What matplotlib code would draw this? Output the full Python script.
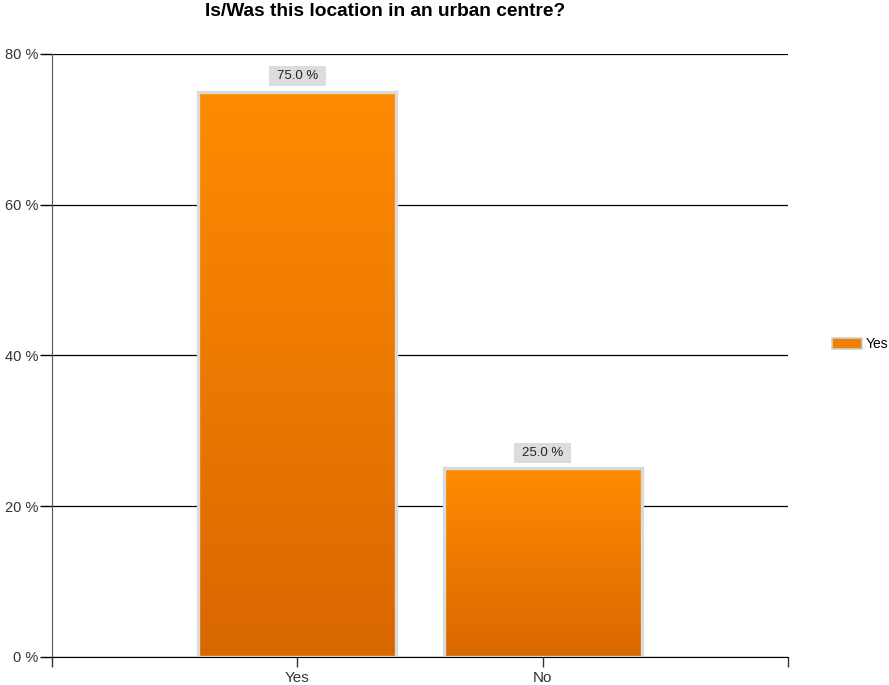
import numpy as np
import matplotlib.pyplot as plt
from matplotlib.colors import LinearSegmentedColormap
from matplotlib.patches import Rectangle

plt.rcParams['font.family'] = ['Liberation Sans', 'DejaVu Sans']

# data
categories = ['Yes', 'No']
percent = [75.0, 25.0]
series_name = 'Yes'
y_ticks = [0, 20, 40, 60, 80]

orange = LinearSegmentedColormap.from_list('orange', ['#d96700', '#ff8b00'])

fig = plt.figure(figsize=(8.89, 6.85), dpi=100)
ax = fig.add_axes([0.0585, 0.041, 0.8279, 0.8803])

x = np.arange(1, len(categories) + 1)
bars = ax.bar(x, percent, width=0.806, facecolor='none',
              edgecolor='#dadada', linewidth=2.4, zorder=3, label=series_name)

ax.set_xlim(0, 3)
ax.set_ylim(0, 80)

# vertical gradient inside every bar, value label on top
grad = np.linspace(0, 1, 256).reshape(-1, 1)
labels = []
for b in bars:
    x0, w, h = b.get_x(), b.get_width(), b.get_height()
    im = ax.imshow(grad, cmap=orange, aspect='auto', origin='lower',
                   extent=[x0, x0 + w, 0, h], zorder=2)
    im.set_clip_path(b)
    t = ax.text(x0 + w / 2, h + 2.1, '%.1f %%' % h, ha='center', va='center',
                fontsize=9.5, color='#222222', zorder=5)
    labels.append(t)

ax.set_yticks(y_ticks)
ax.set_yticklabels(['%d %%' % v for v in y_ticks], fontsize=10.5, color='#333333')
ax.set_xticks([0, 1, 2, 3])
ax.set_xticklabels([''] + categories + [''], fontsize=11, color='#333333')
ax.tick_params(axis='y', length=9, width=1, color='black', pad=1)
ax.tick_params(axis='x', length=7, width=1, color='#333333', pad=3)

ax.yaxis.grid(True, color='black', linewidth=0.9, zorder=1)
ax.set_axisbelow(True)
for side in ['top', 'right']:
    ax.spines[side].set_visible(False)
ax.spines['left'].set_color('#555555')
ax.spines['bottom'].set_color('black')
ax.spines['bottom'].set_zorder(5)

fig.text(385 / 889, 1 - 3 / 685, 'Is/Was this location in an urban centre?',
         ha='center', va='top', fontsize=13.8, fontweight='bold')

leg = ax.legend(loc='center left', bbox_to_anchor=(832 / 889, 1 - 344 / 685),
                bbox_transform=fig.transFigure, frameon=False, borderpad=0,
                borderaxespad=0, fontsize=10, handlelength=2.16,
                handleheight=0.86, handletextpad=0.3)
for hd in leg.legend_handles:
    hd.set_facecolor('#f08000')
    hd.set_edgecolor('#d0d0d0')
    hd.set_linewidth(1.2)

# grey boxes behind the value labels
fig.canvas.draw()
r = fig.canvas.get_renderer()
for t in labels:
    bb = t.get_window_extent(r)
    cx, cy = (bb.x0 + bb.x1) / 2, (bb.y0 + bb.y1) / 2
    bw, bh = bb.width + 16, 20
    fig.patches.append(Rectangle(((cx - bw / 2) / fig.bbox.width,
                                  (cy - bh / 2) / fig.bbox.height),
                                 bw / fig.bbox.width, bh / fig.bbox.height,
                                 transform=fig.transFigure, facecolor='#dcdcdc',
                                 edgecolor='none', zorder=4))
for t in labels:
    t.set_zorder(6)
    t.remove()
    fig.texts.append(t)
    t.set_figure(fig)

fig.savefig('out.png', dpi=100)
